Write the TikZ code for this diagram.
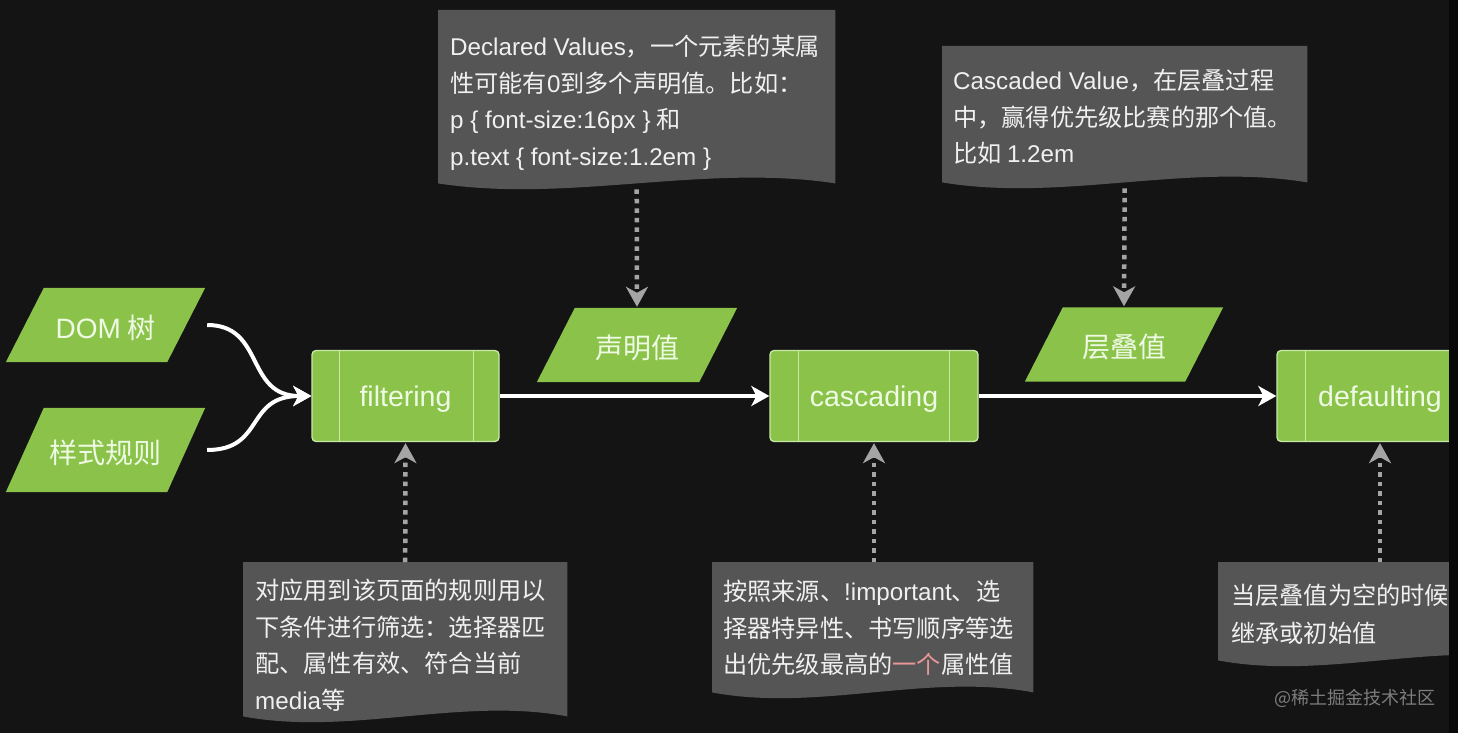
\documentclass[tikz,border=0pt]{standalone}
\usepackage{fontspec}
\setmainfont{Noto Sans CJK SC}
\newfontfamily\lat{Liberation Sans}
\usetikzlibrary{arrows.meta,calc}
\pgfdeclarelayer{bgl}
\pgfdeclarelayer{backl}
\pgfsetlayers{bgl,backl,main}
\definecolor{bgc}{RGB}{20,20,20}
\definecolor{stripc}{RGB}{8,8,8}
\definecolor{grn}{RGB}{139,195,74}
\definecolor{grnl}{RGB}{200,232,165}
\definecolor{grntext}{RGB}{238,250,228}
\definecolor{notec}{RGB}{85,85,85}
\definecolor{dotc}{RGB}{165,165,165}
\definecolor{pinkc}{RGB}{232,150,150}
\definecolor{wmc}{RGB}{125,125,125}
\tikzset{
  proc/.style={rounded corners=4pt, fill=grn, draw=grnl, line width=1.3pt,
    minimum height=91, inner sep=0, text=grntext, text height=20pt, text depth=0pt,
    font=\lat\fontsize{28.5}{30}\selectfont},
  plab/.style={minimum width=199, minimum height=74, inner sep=0, text=grntext,
    text height=26pt, text depth=0pt, font=\fontsize{28}{30}\selectfont},
  flow/.style={draw=white, line width=4pt, -{Stealth[length=18pt,width=20pt,inset=5pt]}},
  dotarrow/.style={draw=dotc, line width=4.5pt, dash pattern=on 4.5pt off 5pt,
    -{Stealth[length=20pt,width=22pt,inset=6pt]}},
  notebox/.style={inner sep=0, anchor=north west},
  notetext/.style={anchor=north west, align=left, inner sep=0, text=white!94!black,
    font=\fontsize{24.2}{36.5}\selectfont},
  innerline/.style={draw=grnl, line width=1.2pt},
}
\newcommand\paraback[2]{% node, slant
  \begin{pgfonlayer}{backl}
  \fill[grn] ([xshift=#2]#1.north west) -- (#1.north east) -- ([xshift=-#2]#1.south east) -- (#1.south west) -- cycle;
  \end{pgfonlayer}}
\newcommand\docback[1]{%
  \begin{pgfonlayer}{backl}
  \fill[notec] let \p1=(#1.south west), \p2=(#1.north east), \n1={\x2-\x1} in
    (\x1,\y2) -- (\x2,\y2) -- (\x2,\y1)
    .. controls ({\x2-0.33*\n1},{\y1+20pt}) and ({\x1+0.33*\n1},{\y1-20pt}) .. (\x1,\y1) -- cycle;
  \end{pgfonlayer}}
\begin{document}
\begin{tikzpicture}[x=1pt,y=-1pt]
\useasboundingbox (0,0) rectangle (1458,733);
\begin{pgfonlayer}{bgl}
\fill[bgc] (0,0) rectangle (1458,733);
\end{pgfonlayer}

% parallelogram inputs
\node[plab] (dom) at (105.5,325) {{\lat DOM} 树};
\paraback{dom}{38}
\node[plab, minimum height=84] (sty) at (105.5,450) {样式规则};
\paraback{sty}{38}
\node[plab, minimum width=200] (decl) at (637,345) {声明值};
\paraback{decl}{38}
\node[plab, minimum width=198] (cascv) at (1124,344.5) {层叠值};
\paraback{cascv}{38}

% process boxes
\node[proc, minimum width=187] (filt) at (405.5,396) {filtering};
\draw[innerline] ([xshift=28]filt.north west) -- ([xshift=28]filt.south west);
\draw[innerline] ([xshift=-26]filt.north east) -- ([xshift=-26]filt.south east);
\node[proc, minimum width=208] (casc) at (874,396) {cascading};
\draw[innerline] ([xshift=29]casc.north west) -- ([xshift=29]casc.south west);
\draw[innerline] ([xshift=-29]casc.north east) -- ([xshift=-29]casc.south east);
\node[proc, minimum width=206] (def) at (1380,396) {defaulting};
\draw[innerline] ([xshift=29]def.north west) -- ([xshift=29]def.south west);
\draw[innerline] ([xshift=-29]def.north east) -- ([xshift=-29]def.south east);

% flow arrows
\draw[flow] ([xshift=2]dom.east) .. controls (265,325) and (245,396) .. (filt.west);
\draw[flow] ([xshift=2]sty.east) .. controls (265,450) and (245,396) .. (filt.west);
\draw[flow] (filt.east) -- (casc.west);
\draw[flow] (casc.east) -- (def.west);

% top notes
\node[notebox, minimum width=397, minimum height=173] (declN) at (438,10) {};
\docback{declN}
\node[notetext] (declT) at (450,35) {{\lat Declared Values}，一个元素的某属\\性可能有{\lat 0}到多个声明值。比如：\\{\lat p \{ font-size:16px \}} 和\\{\lat p.text \{ font-size:1.2em \}}};
\node[notebox, minimum width=365, minimum height=136] (cascN) at (942,46) {};
\docback{cascN}
\node[notetext] (cascT) at (953,69) {{\lat Cascaded Value}，在层叠过程\\中，赢得优先级比赛的那个值。\\比如 {\lat 1.2em}};

% bottom notes
\node[notebox, minimum width=324, minimum height=154] (filtN) at (243,562) {};
\docback{filtN}
\node[notetext] (filtT) at (255,579) {对应用到该页面的规则用以\\下条件进行筛选：选择器匹\\配、属性有效、符合当前\\{\lat media}等};
\node[notebox, minimum width=321, minimum height=130] (cascNN) at (712,562) {};
\docback{cascNN}
\node[notetext] (cascNT) at (723,580) {按照来源、{\lat !important}、选\\择器特异性、书写顺序等选\\出优先级最高的{\color{pinkc}一个}属性值};
\node[notebox, minimum width=324, minimum height=98] (defN) at (1218,562) {};
\docback{defN}
\node[notetext, font=\fontsize{24.2}{37.5}\selectfont] (defT) at (1231,584) {当层叠值为空的时候\\继承或初始值};

% dotted arrows
\draw[dotarrow, shorten <=6pt, shorten >=1pt] (declN.south) -- (decl.north);
\draw[dotarrow, shorten <=6pt, shorten >=1pt] (cascN.south) -- (cascv.north);
\draw[dotarrow, shorten >=1pt] (filtN.north) -- (filt.south);
\draw[dotarrow, shorten >=1pt] (cascNN.north -| casc.south) -- (casc.south);
\draw[dotarrow, shorten >=1pt] (defN.north -| def.south) -- (def.south);

% watermark
\node[text=wmc, font=\fontsize{18}{20}\selectfont, inner sep=0] (wm) at (1355,698) {@稀土掘金技术社区};

% right strip
\fill[stripc] (1449,0) rectangle (1458,733);
\end{tikzpicture}
\end{document}
